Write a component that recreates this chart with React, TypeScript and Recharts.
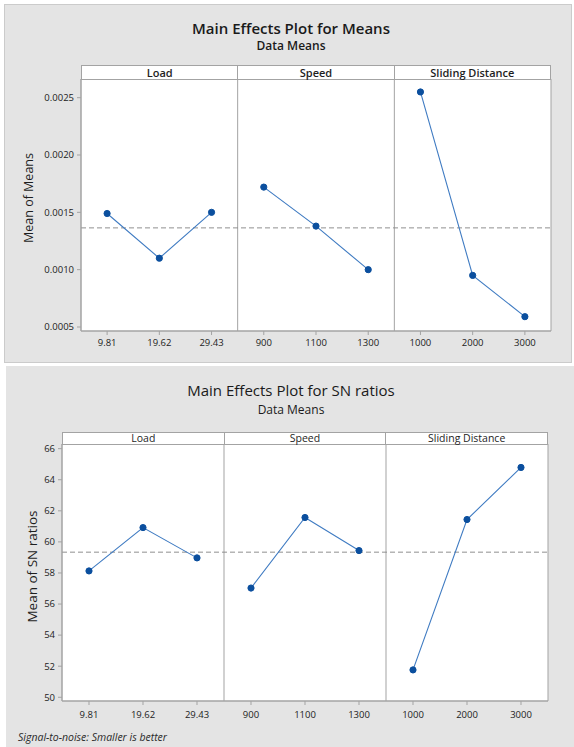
import {
  Line,
  LineChart,
  ReferenceArea,
  ReferenceLine,
  XAxis,
  YAxis,
} from "recharts";

const factors = ["Load", "Speed", "Sliding Distance"];
const loadLevels = ["9.81", "19.62", "29.43"];
const speedLevels = ["900", "1100", "1300"];
const distanceLevels = ["1000", "2000", "3000"];

const meansLoad = [0.00149, 0.0011, 0.0015];
const meansSpeed = [0.00172, 0.00138, 0.001];
const meansDistance = [0.00255, 0.00095, 0.00059];
const meansTicks = [0.0005, 0.001, 0.0015, 0.002, 0.0025];

const snLoad = [58.13, 60.92, 58.97];
const snSpeed = [57.03, 61.57, 59.44];
const snDistance = [51.76, 61.44, 64.79];
const snTicks = [50, 52, 54, 56, 58, 60, 62, 64, 66];

const levels = [loadLevels, speedLevels, distanceLevels];
const seriesKeys = ["load", "speed", "distance"];
const tickLabels = levels.flat();
const xTicks = tickLabels.map((_, i) => i + 0.5);

const FONT = "'Segoe UI', 'Open Sans', sans-serif";
const BLUE_LINE = "#3f7bc2";
const BLUE_DOT = "#0b4f9e";
const FRAME = "#a3a3a3";
const PANEL_BG = "#e4e4e4";

type Row = { x: number; [key: string]: number | undefined };

function buildRows(values: number[][]) {
  const rows: Row[] = [];
  levels.forEach((lv, fi) => {
    lv.forEach((_, li) => {
      rows.push({ x: fi * 3 + li + 0.5, [seriesKeys[fi]]: values[fi][li] });
    });
  });
  return rows;
}

function grandMean(values: number[][]) {
  const all = values.flat();
  return all.reduce((a, b) => a + b, 0) / all.length;
}

function yLabel(text: string, dx: number, dy: number, size: number) {
  return (props: any) => {
    const vb = props.viewBox || {};
    const cx = (vb.x ?? 0) + dx;
    const cy = (vb.y ?? 0) + (vb.height ?? 0) / 2 + dy;
    return (
      <text
        x={cx}
        y={cy}
        transform={`rotate(-90 ${cx} ${cy})`}
        textAnchor="middle"
        dominantBaseline="central"
        fontSize={size}
        fontFamily={FONT}
        fill="#1e1e1e"
      >
        {text}
      </text>
    );
  };
}

type EffectsChartProps = {
  values: number[][];
  domain: [number, number];
  yTicks: number[];
  tickFormat: (v: number) => string;
  width: number;
  height: number;
  margin: { top: number; right: number; bottom: number; left: number };
  yAxisWidth: number;
  xAxisHeight: number;
  xTickMargin: number;
  tickFont: number;
  label: string;
  labelDx: number;
  labelDy: number;
  labelSize: number;
};

function EffectsChart(p: EffectsChartProps) {
  const data = buildRows(p.values);
  const mean = grandMean(p.values);
  return (
    <LineChart width={p.width} height={p.height} data={data} margin={p.margin}>
      <XAxis
        dataKey="x"
        type="number"
        domain={[0, 9]}
        ticks={xTicks}
        allowDataOverflow
        tickFormatter={(v: number) => tickLabels[Math.floor(v)]}
        tick={{ fontSize: p.tickFont, fill: "#222", fontFamily: FONT }}
        tickSize={4}
        tickMargin={p.xTickMargin}
        height={p.xAxisHeight}
        stroke={FRAME}
        interval={0}
      />
      <YAxis
        type="number"
        domain={p.domain}
        ticks={p.yTicks}
        allowDataOverflow
        tickFormatter={p.tickFormat}
        tick={{ fontSize: p.tickFont, fill: "#222", fontFamily: FONT }}
        tickSize={4}
        tickMargin={3}
        width={p.yAxisWidth}
        stroke={FRAME}
        interval={0}
        label={yLabel(p.label, p.labelDx, p.labelDy, p.labelSize)}
      />
      <ReferenceArea
        x1={0}
        x2={9}
        y1={p.domain[0]}
        y2={p.domain[1]}
        fill="#ffffff"
        fillOpacity={1}
        stroke={FRAME}
        strokeWidth={1}
      />
      <ReferenceLine x={3} stroke={FRAME} strokeWidth={1} />
      <ReferenceLine x={6} stroke={FRAME} strokeWidth={1} />
      <ReferenceLine y={mean} stroke="#8f8f8f" strokeDasharray="5 3" strokeWidth={1} />
      {seriesKeys.map((key) => (
        <Line
          key={key}
          dataKey={key}
          type="linear"
          stroke={BLUE_LINE}
          strokeWidth={1.1}
          dot={{ r: 3.1, fill: BLUE_DOT, stroke: BLUE_DOT, strokeWidth: 1 }}
          activeDot={false}
          isAnimationActive={false}
        />
      ))}
    </LineChart>
  );
}

function HeaderStrip(props: {
  left: number;
  top: number;
  width: number;
  height: number;
  fontSize: number;
  weight: number;
}) {
  return (
    <div
      style={{
        position: "absolute",
        left: props.left,
        top: props.top,
        width: props.width,
        height: props.height,
        boxSizing: "border-box",
        border: `1px solid ${FRAME}`,
        background: "#fff",
        display: "flex",
        fontFamily: FONT,
        fontSize: props.fontSize,
        fontWeight: props.weight,
        color: "#1e1e1e",
      }}
    >
      {factors.map((f, i) => (
        <div
          key={f}
          style={{
            flex: 1,
            textAlign: "center",
            lineHeight: `${props.height - 2}px`,
            borderLeft: i > 0 ? `1px solid ${FRAME}` : "none",
            whiteSpace: "nowrap",
          }}
        >
          {f}
        </div>
      ))}
    </div>
  );
}

function Title(props: { text: string; top: number; size: number; weight: number }) {
  return (
    <div
      style={{
        position: "absolute",
        left: 8,
        width: 566,
        top: props.top,
        textAlign: "center",
        fontFamily: FONT,
        fontSize: props.size,
        fontWeight: props.weight,
        lineHeight: 1,
        color: "#1a1a1a",
        whiteSpace: "nowrap",
      }}
    >
      {props.text}
    </div>
  );
}

export default function App() {
  return (
    <div
      style={{
        position: "absolute",
        left: 0,
        top: 0,
        width: 574,
        height: 747,
        background: "#fff",
        overflow: "hidden",
      }}
    >
      {/* top figure: means */}
      <div
        style={{
          position: "absolute",
          left: 4,
          top: 4,
          width: 568,
          height: 359,
          boxSizing: "border-box",
          background: PANEL_BG,
          border: "1px solid #cbcbcb",
        }}
      />
      <Title text="Main Effects Plot for Means" top={21} size={15} weight={600} />
      <Title text="Data Means" top={40} size={12} weight={600} />
      <div style={{ position: "absolute", left: 0, top: 0 }}>
        <EffectsChart
          values={[meansLoad, meansSpeed, meansDistance]}
          domain={[0.000465, 0.002663]}
          yTicks={meansTicks}
          tickFormat={(v) => v.toFixed(4)}
          width={574}
          height={363}
          margin={{ top: 79, right: 23, bottom: 2, left: 0 }}
          yAxisWidth={81}
          xAxisHeight={30}
          xTickMargin={4}
          tickFont={9.5}
          label="Mean of Means"
          labelDx={28}
          labelDy={-7}
          labelSize={12.5}
        />
      </div>
      <HeaderStrip left={81} top={65} width={470} height={15} fontSize={11} weight={600} />

      {/* bottom figure: SN ratios */}
      <div
        style={{
          position: "absolute",
          left: 6,
          top: 366,
          width: 568,
          height: 381,
          background: PANEL_BG,
        }}
      />
      <Title text="Main Effects Plot for SN ratios" top={383} size={15} weight={500} />
      <Title text="Data Means" top={404} size={12} weight={500} />
      <div style={{ position: "absolute", left: 0, top: 366 }}>
        <EffectsChart
          values={[snLoad, snSpeed, snDistance]}
          domain={[49.76, 66.3]}
          yTicks={snTicks}
          tickFormat={(v) => String(v)}
          width={574}
          height={381}
          margin={{ top: 78, right: 26, bottom: 16, left: 0 }}
          yAxisWidth={62}
          xAxisHeight={30}
          xTickMargin={6}
          tickFont={9.5}
          label="Mean of SN ratios"
          labelDx={31.5}
          labelDy={-6}
          labelSize={13.5}
        />
      </div>
      <HeaderStrip left={62} top={432} width={486} height={13} fontSize={10.5} weight={400} />
      <div
        style={{
          position: "absolute",
          left: 18,
          top: 732,
          fontFamily: FONT,
          fontStyle: "italic",
          fontSize: 10.5,
          lineHeight: 1,
          color: "#2a2a2a",
          whiteSpace: "nowrap",
        }}
      >
        Signal-to-noise: Smaller is better
      </div>
    </div>
  );
}
